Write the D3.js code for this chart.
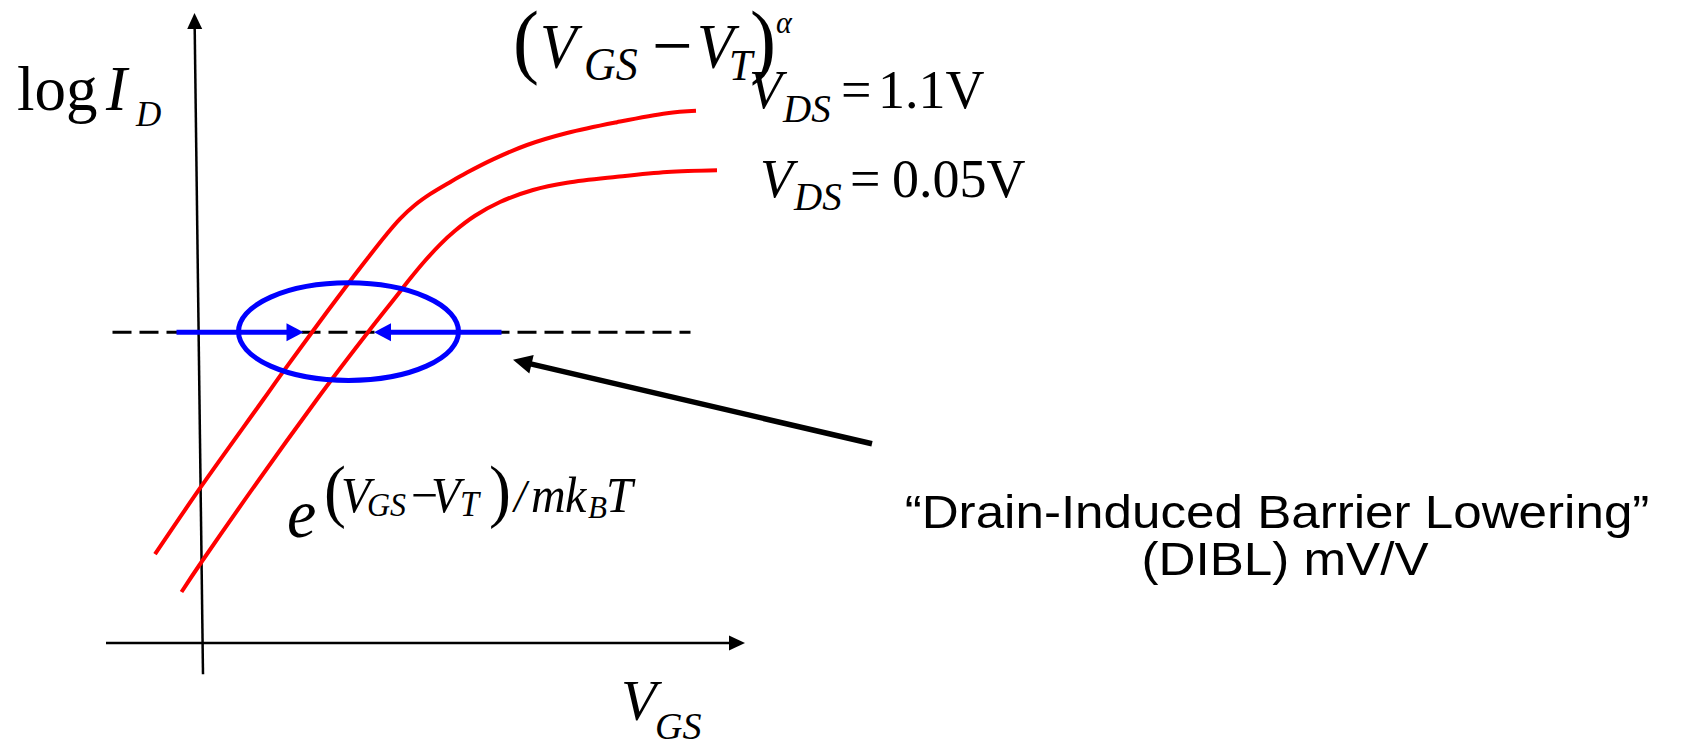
<!DOCTYPE html>
<html>
<head>
<meta charset="utf-8">
<script src="https://cdn.jsdelivr.net/npm/d3@7"></script>
<style>
body{margin:0;background:#fff;}
.serif{font-family:"Liberation Serif","Times New Roman",serif;fill:#000;}
.sans{font-family:"Liberation Sans",Arial,sans-serif;fill:#000;}
</style>
</head>
<body>
<div id="content"></div>
<script>
//DIBL sketch: log I_D vs V_GS for two drain voltages

var svg_width=1687;
var svg_height=744;
var red='#ff0000';
var blue='#0000ff';

//V_GS (V) and log10(I_D)
var vgs_high=[-0.09,0.0,0.126,0.166,0.224,0.30,0.336,0.37,0.40,0.43,0.46,0.50,0.534,0.586,0.654,0.734,0.834,0.934,0.992];
var logid_high=[-10.52,-9.42,-7.95,-7.48,-6.82,-5.97,-5.58,-5.22,-4.93,-4.7,-4.52,-4.32,-4.16,-3.94,-3.7,-3.5,-3.32,-3.17,-3.13];
var vgs_low=[-0.037,0.003,0.233,0.336,0.39,0.42,0.45,0.48,0.51,0.55,0.60,0.666,0.734,0.834,0.934,1.034];
var logid_low=[-11.15,-10.65,-7.95,-6.82,-6.25,-5.93,-5.63,-5.36,-5.13,-4.88,-4.65,-4.45,-4.33,-4.23,-4.15,-4.12];

//constant current level and the shift markers
var dibl_logid=-6.82;
var dash_vgs=[-0.175,0.981];
var ellipse_center=[0.297,-6.81];
var ellipse_radius=[0.22,0.813];
var shift_left=[-0.047,0.207];
var shift_right=[0.603,0.348];
var pointer_vgs=[1.344,0.626];
var pointer_logid=[-8.68,-7.28];

//axes (hand drawn, y axis leans a little)
var x_axis_vgs=[-0.188,1.09];
var y_axis_vgs=[0.006,-0.011];
var y_axis_logid=[-12.52,-1.5];

var note_lines=['\u201cDrain-Induced Barrier Lowering\u201d','(DIBL) mV/V'];

var svg=d3.select('#content').append('svg')
	.attr('width',svg_width).attr('height',svg_height);

var xScale=d3.scaleLinear().domain([0,1]).range([200,700]);
var yScale=d3.scaleLinear().domain([-12,-3]).range([643,103]);

//draws a line with a filled triangular head at (x2,y2)
function drawArrow(x1,y1,x2,y2,width,len,half,color){
	var dx=x2-x1, dy=y2-y1, L=Math.sqrt(dx*dx+dy*dy);
	var ux=dx/L, uy=dy/L;
	var bx=x2-ux*len, by=y2-uy*len;
	svg.append('line')
		.attr('x1',x1).attr('y1',y1)
		.attr('x2',bx+ux*2).attr('y2',by+uy*2)
		.style('stroke',color).style('stroke-width',width);
	svg.append('polygon')
		.attr('points',[[x2,y2],[bx-uy*half,by+ux*half],[bx+uy*half,by-ux*half]].map(function(p){return p.join(',');}).join(' '))
		.style('fill',color);
}

//places the pieces of an equation, sy stretches vertically
function drawPieces(pieces,sy){
	pieces.forEach(function(p){
		svg.append('text')
			.attr('class',p.sans?'sans':'serif')
			.attr('transform','translate('+p.x+','+p.y+') scale(1,'+sy+')')
			.style('font-size',p.s+'px')
			.style('font-style',p.i?'italic':'normal')
			.text(p.t);
	});
}

//axes
drawArrow(xScale(x_axis_vgs[0]),yScale(-12),xScale(x_axis_vgs[1]),yScale(-12),2.5,16,7.5,'#000');
drawArrow(xScale(y_axis_vgs[0]),yScale(y_axis_logid[0]),xScale(y_axis_vgs[1]),yScale(y_axis_logid[1]),2.5,16,7.5,'#000');

//dashed constant-current line
svg.append('line')
	.attr('x1',xScale(dash_vgs[0])).attr('x2',xScale(dash_vgs[1]))
	.attr('y1',yScale(dibl_logid)).attr('y2',yScale(dibl_logid))
	.style('stroke','#000').style('stroke-width',3).style('stroke-dasharray','19,8');

//transfer curves
var line=d3.line()
	.x(function(d){return xScale(d[0]);})
	.y(function(d){return yScale(d[1]);})
	.curve(d3.curveCatmullRom.alpha(0.5));

[[vgs_high,logid_high],[vgs_low,logid_low]].forEach(function(c){
	svg.append('path')
		.datum(d3.zip(c[0],c[1]))
		.attr('d',line)
		.style('fill','none').style('stroke',red).style('stroke-width',4);
});

//blue ellipse and arrows showing the shift
svg.append('ellipse')
	.attr('cx',xScale(ellipse_center[0])).attr('cy',yScale(ellipse_center[1]))
	.attr('rx',xScale(ellipse_radius[0])-xScale(0)).attr('ry',yScale(-12)-yScale(-12+ellipse_radius[1]))
	.style('fill','none').style('stroke',blue).style('stroke-width',5);

drawArrow(xScale(shift_left[0]),yScale(dibl_logid),xScale(shift_left[1]),yScale(dibl_logid),5,17,9,blue);
drawArrow(xScale(shift_right[0]),yScale(dibl_logid),xScale(shift_right[1]),yScale(dibl_logid),5,17,9,blue);

//pointer from the note to the shift
drawArrow(xScale(pointer_vgs[0]),yScale(pointer_logid[0]),xScale(pointer_vgs[1]),yScale(pointer_logid[1]),5.5,19,9.5,'#000');

//labels
drawPieces([
	{t:'log',x:17,y:110,s:63},
	{t:'I',x:106,y:110,s:63,i:1},
	{t:'D',x:136,y:126,s:35,i:1},
	{t:'V',x:621,y:720,s:58,i:1},
	{t:'GS',x:655,y:739,s:38,i:1},
	{t:'V',x:749,y:108,s:54,i:1},
	{t:'DS',x:783,y:122,s:39,i:1},
	{t:'=',x:841,y:108,s:54},
	{t:'1.1V',x:878,y:108,s:54},
	{t:'V',x:760,y:197,s:54,i:1},
	{t:'DS',x:794,y:210,s:39,i:1},
	{t:'=',x:850,y:197,s:54},
	{t:'0.05V',x:892,y:197,s:54}
],1);

//(V_GS - V_T)^alpha
drawPieces([
	{t:'(',x:513,y:68,s:78},
	{t:'V',x:540,y:68,s:60,i:1},
	{t:'GS',x:584,y:80,s:44,i:1},
	{t:'\u2212',x:652,y:71,s:72},
	{t:'V',x:697,y:68,s:60,i:1},
	{t:'T',x:729,y:80,s:42,i:1},
	{t:')',x:750,y:68,s:78},
	{t:'\u03b1',x:776,y:33,s:30,i:1}
],1.05);

//e^((V_GS - V_T)/m k_B T)
drawPieces([
	{t:'e',x:287,y:537,s:66,i:1},
	{t:'(',x:324,y:514,s:66},
	{t:'V',x:341,y:512,s:48,i:1},
	{t:'GS',x:367,y:516,s:32,i:1},
	{t:'\u2212',x:411,y:512,s:48},
	{t:'V',x:431,y:512,s:48,i:1},
	{t:'T',x:460,y:516,s:34,i:1},
	{t:')',x:489,y:514,s:66},
	{t:'/',x:514,y:512,s:44,i:1},
	{t:'m',x:531,y:512,s:48,i:1},
	{t:'k',x:565,y:512,s:48,i:1},
	{t:'B',x:588,y:518,s:31,i:1},
	{t:'T',x:606,y:512,s:48,i:1}
],1.05);

//DIBL note
svg.selectAll('.note')
	.data(note_lines)
	.enter().append('text')
	.attr('class','sans')
	.attr('text-anchor','middle')
	.attr('transform',function(d,i){return 'translate('+(i==0?1277:1285)+','+(i==0?528:575)+') scale(1.1,1)';})
	.style('font-size','46.5px')
	.text(function(d){return d;});
</script>
</body>
</html>
